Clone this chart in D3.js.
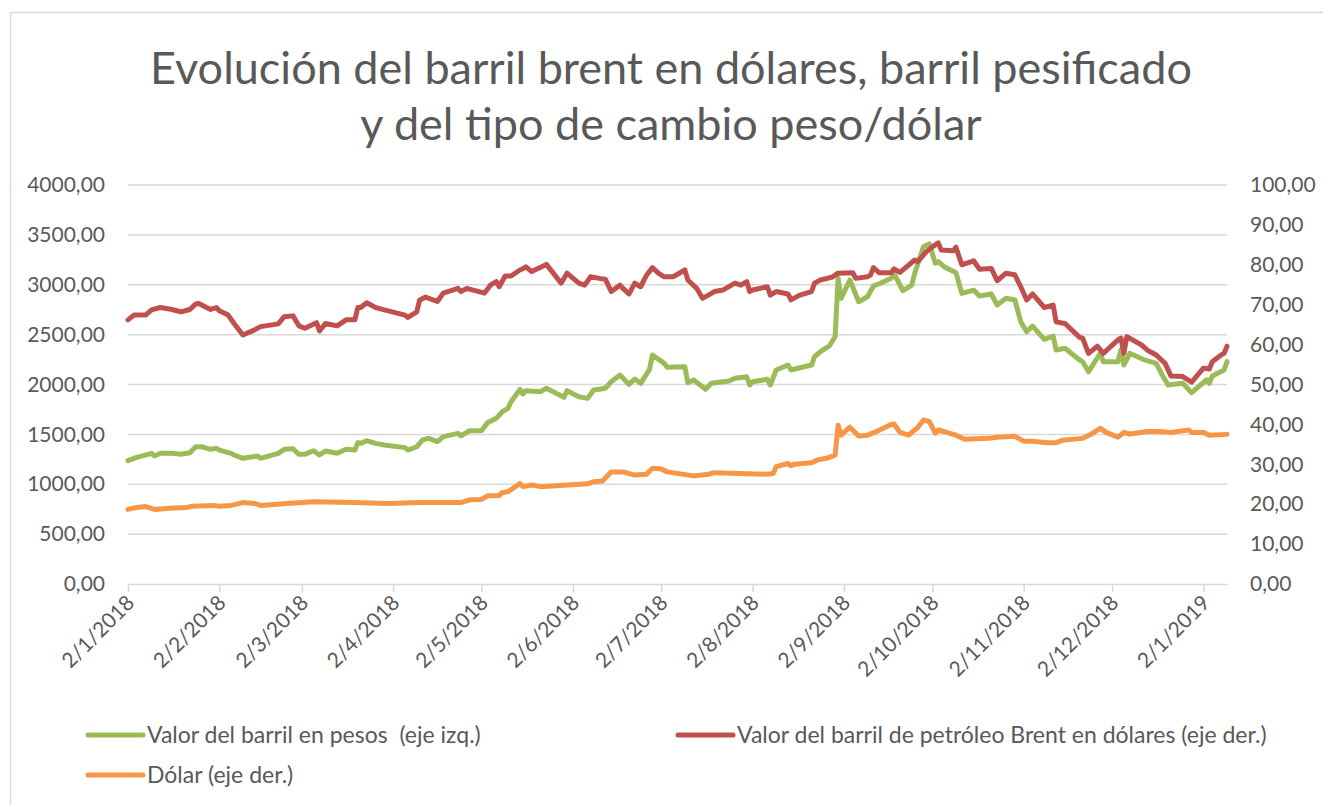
<!DOCTYPE html>
<html>
<head>
<meta charset="utf-8">
<script src="https://cdn.jsdelivr.net/npm/d3@7"></script>
<style>
  body { margin: 0; background: #fff; }
  text { font-family: Lato, "Open Sans", sans-serif; fill: #595959; }
</style>
</head>
<body>
<div id="chart"></div>
<script>
// series: valor del barril en pesos (eje izq.)
var pesosDates = ["2018-01-02","2018-01-05","2018-01-10","2018-01-11","2018-01-13","2018-01-17","2018-01-20","2018-01-23","2018-01-25","2018-01-27","2018-01-30","2018-02-01","2018-02-02","2018-02-06","2018-02-07","2018-02-10","2018-02-15","2018-02-16","2018-02-22","2018-02-24","2018-02-27","2018-03-01","2018-03-03","2018-03-06","2018-03-08","2018-03-10","2018-03-14","2018-03-17","2018-03-20","2018-03-21","2018-03-22","2018-03-24","2018-03-27","2018-03-30","2018-04-06","2018-04-07","2018-04-10","2018-04-12","2018-04-14","2018-04-17","2018-04-19","2018-04-24","2018-04-25","2018-04-28","2018-05-02","2018-05-04","2018-05-07","2018-05-09","2018-05-11","2018-05-12","2018-05-15","2018-05-16","2018-05-17","2018-05-22","2018-05-24","2018-05-30","2018-05-31","2018-06-04","2018-06-07","2018-06-09","2018-06-11","2018-06-13","2018-06-15","2018-06-18","2018-06-21","2018-06-23","2018-06-25","2018-06-28","2018-06-29","2018-07-03","2018-07-04","2018-07-10","2018-07-11","2018-07-13","2018-07-17","2018-07-19","2018-07-25","2018-07-27","2018-07-31","2018-08-01","2018-08-02","2018-08-07","2018-08-08","2018-08-10","2018-08-14","2018-08-15","2018-08-22","2018-08-23","2018-08-25","2018-08-28","2018-08-30","2018-08-31","2018-09-01","2018-09-04","2018-09-07","2018-09-10","2018-09-12","2018-09-14","2018-09-18","2018-09-19","2018-09-22","2018-09-25","2018-09-26","2018-09-29","2018-10-01","2018-10-03","2018-10-04","2018-10-06","2018-10-10","2018-10-12","2018-10-16","2018-10-18","2018-10-22","2018-10-24","2018-10-27","2018-10-30","2018-11-01","2018-11-03","2018-11-05","2018-11-09","2018-11-12","2018-11-13","2018-11-16","2018-11-21","2018-11-22","2018-11-24","2018-11-28","2018-11-29","2018-12-04","2018-12-05","2018-12-06","2018-12-08","2018-12-13","2018-12-17","2018-12-19","2018-12-21","2018-12-26","2018-12-29","2019-01-03","2019-01-04","2019-01-05","2019-01-09","2019-01-10"];
var pesosValues = [1236,1270,1310,1283,1310,1310,1300,1316,1376,1376,1350,1360,1343,1310,1293,1260,1283,1260,1310,1350,1356,1300,1300,1336,1293,1333,1310,1350,1343,1417,1410,1437,1410,1393,1367,1343,1376,1444,1460,1427,1477,1510,1484,1537,1537,1617,1661,1727,1761,1828,1950,1905,1938,1928,1962,1872,1938,1878,1861,1945,1952,1962,2028,2095,2002,2055,2012,2152,2296,2212,2172,2179,2018,2045,1952,2012,2035,2062,2078,1995,2028,2052,1995,2145,2195,2145,2195,2279,2329,2386,2479,3065,2864,3048,2830,2880,2988,3010,3065,3110,2940,2997,3115,3381,3409,3215,3232,3181,3121,2914,2947,2887,2907,2797,2864,2847,2630,2529,2586,2453,2486,2346,2363,2246,2229,2128,2313,2229,2229,2346,2195,2313,2246,2212,2095,1995,2012,1918,2045,2012,2085,2145,2229];

// series: Brent en dólares (eje der.)
var brentDates = ["2018-01-02","2018-01-04","2018-01-08","2018-01-10","2018-01-13","2018-01-17","2018-01-20","2018-01-23","2018-01-25","2018-01-26","2018-01-30","2018-02-01","2018-02-02","2018-02-05","2018-02-07","2018-02-10","2018-02-14","2018-02-16","2018-02-22","2018-02-24","2018-02-27","2018-03-01","2018-03-03","2018-03-07","2018-03-08","2018-03-10","2018-03-14","2018-03-17","2018-03-20","2018-03-21","2018-03-22","2018-03-24","2018-03-27","2018-03-30","2018-04-06","2018-04-07","2018-04-10","2018-04-11","2018-04-13","2018-04-17","2018-04-19","2018-04-24","2018-04-25","2018-04-27","2018-05-03","2018-05-05","2018-05-07","2018-05-08","2018-05-10","2018-05-12","2018-05-15","2018-05-16","2018-05-17","2018-05-19","2018-05-24","2018-05-29","2018-05-31","2018-06-04","2018-06-06","2018-06-08","2018-06-11","2018-06-13","2018-06-15","2018-06-18","2018-06-19","2018-06-21","2018-06-23","2018-06-25","2018-06-27","2018-06-29","2018-07-01","2018-07-03","2018-07-06","2018-07-10","2018-07-11","2018-07-14","2018-07-16","2018-07-18","2018-07-20","2018-07-23","2018-07-27","2018-07-29","2018-07-31","2018-08-01","2018-08-02","2018-08-07","2018-08-08","2018-08-10","2018-08-14","2018-08-15","2018-08-18","2018-08-22","2018-08-23","2018-08-25","2018-08-29","2018-08-31","2018-09-05","2018-09-06","2018-09-10","2018-09-11","2018-09-12","2018-09-14","2018-09-18","2018-09-19","2018-09-21","2018-09-26","2018-09-27","2018-09-30","2018-10-02","2018-10-04","2018-10-05","2018-10-09","2018-10-10","2018-10-12","2018-10-16","2018-10-18","2018-10-22","2018-10-24","2018-10-27","2018-10-30","2018-11-01","2018-11-03","2018-11-05","2018-11-09","2018-11-12","2018-11-13","2018-11-16","2018-11-21","2018-11-22","2018-11-24","2018-11-27","2018-11-29","2018-12-04","2018-12-05","2018-12-06","2018-12-07","2018-12-12","2018-12-14","2018-12-17","2018-12-20","2018-12-22","2018-12-26","2018-12-29","2019-01-02","2019-01-04","2019-01-05","2019-01-08","2019-01-09","2019-01-10"];
var brentValues = [66.2,67.4,67.4,68.7,69.3,68.8,68.2,68.8,70.2,70.3,68.8,69.3,68.5,67.4,65.3,62.4,63.7,64.5,65.2,67.0,67.2,64.7,64.1,65.5,63.4,65.3,64.7,66.2,66.2,69.3,69.3,70.5,69.3,68.7,67.4,66.8,68.2,71.2,71.9,70.8,72.9,74.1,73.3,74.1,72.9,74.9,75.8,74.5,77.2,77.2,78.7,79.0,79.5,78.3,80.1,75.4,77.9,75.4,74.9,77.0,76.6,76.4,73.3,74.9,74.1,72.7,75.4,74.5,77.4,79.3,77.9,77.0,77.0,78.7,76.2,74.1,71.6,72.4,73.3,73.7,75.4,74.9,75.8,73.3,73.7,74.5,72.4,73.3,72.7,71.2,72.4,73.3,75.4,76.2,76.9,77.9,78.0,76.6,77.0,77.4,79.3,78.0,78.0,79.0,78.1,81.2,80.8,83.3,84.5,85.5,83.7,83.5,84.4,80.0,81.0,78.9,79.1,76.0,77.9,77.5,74.5,71.2,72.7,69.3,69.9,65.7,65.3,61.8,61.6,57.8,59.6,57.8,61.2,61.6,57.8,62.0,59.9,58.6,57.4,55.3,52.1,52.0,50.6,54.1,53.9,55.7,57.4,57.8,59.6];

// series: dólar (eje der.)
var dolarDates = ["2018-01-02","2018-01-05","2018-01-08","2018-01-11","2018-01-16","2018-01-22","2018-01-24","2018-01-31","2018-02-02","2018-02-06","2018-02-10","2018-02-14","2018-02-16","2018-02-25","2018-03-06","2018-03-20","2018-03-31","2018-04-11","2018-04-25","2018-04-28","2018-05-02","2018-05-04","2018-05-08","2018-05-09","2018-05-11","2018-05-15","2018-05-16","2018-05-19","2018-05-22","2018-06-07","2018-06-09","2018-06-12","2018-06-15","2018-06-19","2018-06-23","2018-06-27","2018-06-29","2018-07-02","2018-07-04","2018-07-13","2018-07-18","2018-07-20","2018-08-07","2018-08-09","2018-08-10","2018-08-14","2018-08-15","2018-08-16","2018-08-22","2018-08-24","2018-08-27","2018-08-30","2018-08-31","2018-09-01","2018-09-04","2018-09-07","2018-09-10","2018-09-13","2018-09-18","2018-09-19","2018-09-21","2018-09-24","2018-09-26","2018-09-27","2018-09-29","2018-10-01","2018-10-03","2018-10-04","2018-10-06","2018-10-10","2018-10-13","2018-10-21","2018-10-24","2018-10-30","2018-11-02","2018-11-05","2018-11-10","2018-11-13","2018-11-15","2018-11-22","2018-11-25","2018-11-28","2018-11-30","2018-12-04","2018-12-06","2018-12-08","2018-12-14","2018-12-18","2018-12-22","2018-12-28","2018-12-29","2019-01-02","2019-01-04","2019-01-10"];
var dolarValues = [18.7,19.2,19.4,18.7,19.0,19.2,19.5,19.7,19.5,19.7,20.4,20.2,19.7,20.2,20.6,20.4,20.2,20.4,20.4,21.1,21.2,22.1,22.2,22.9,23.1,25.2,24.4,24.8,24.4,25.1,25.6,25.8,28.1,28.1,27.3,27.5,29.0,28.8,28.1,27.1,27.5,27.9,27.5,27.7,29.4,30.2,29.6,30.0,30.4,31.1,31.5,32.3,39.8,37.3,39.3,37.1,37.3,38.2,40.0,40.1,38.0,37.3,38.6,39.2,41.1,40.7,37.8,38.6,38.2,37.3,36.3,36.5,36.8,37.0,35.8,35.8,35.4,35.4,36.0,36.5,37.6,39.0,38.0,36.8,38.0,37.6,38.2,38.2,38.0,38.6,38.0,38.0,37.3,37.5];

var tickDates = ["2018-01-02","2018-02-02","2018-03-02","2018-04-02","2018-05-02","2018-06-02","2018-07-02","2018-08-02","2018-09-02","2018-10-02","2018-11-02","2018-12-02","2019-01-02"];
var leftTicks = [0,500,1000,1500,2000,2500,3000,3500,4000];
var rightTicks = [0,10,20,30,40,50,60,70,80,90,100];

var titleLines = ["Evolución del barril brent en dólares, barril pesificado", "y del tipo de cambio peso/dólar"];
var seriesNames = ["Valor del barril en pesos  (eje izq.)", "Valor del barril de petróleo Brent en dólares (eje der.)", "Dólar (eje der.)"];
var seriesColors = ["#9BBB59", "#C0504D", "#F79646"];

var svgWidth = 1323;
var svgHeight = 805;
var margin = {top: 185, bottom: 221, left: 128, right: 96};
var width = svgWidth - margin.left - margin.right;
var height = svgHeight - margin.top - margin.bottom;

var parseDate = d3.timeParse("%Y-%m-%d");
var fmtDate = d3.timeFormat("%-d/%-m/%Y");
var fmtNum = d => d.toFixed(2).replace(".", ",");

var svg = d3.select("#chart").append("svg")
	.attr("width", svgWidth)
	.attr("height", svgHeight);

svg.append("rect")
	.attr("x", 10.5).attr("y", 12.5)
	.attr("width", svgWidth + 20).attr("height", svgHeight + 20)
	.attr("fill", "#fff")
	.attr("stroke", "#d9d9d9")
	.attr("stroke-width", 1.5);

// title
svg.append("g").selectAll("text")
	.data(titleLines)
	.enter().append("text")
	.attr("x", 671)
	.attr("y", (d, i) => 84 + i * 56)
	.attr("text-anchor", "middle")
	.style("font-size", "45px")
	.text(d => d);

var xTime = d3.scaleTime()
	.domain([parseDate("2018-01-02"), parseDate("2019-01-10")])
	.range([0, width]);
var yLeft = d3.scaleLinear().domain([0, 4000]).range([height, 0]);
var yRight = d3.scaleLinear().domain([0, 100]).range([height, 0]);

var chartGroup = svg.append("g")
	.attr("transform", `translate(${margin.left}, ${margin.top})`);

// gridlines
chartGroup.append("g").selectAll("line")
	.data(leftTicks.slice(1))
	.enter().append("line")
	.attr("x1", 0).attr("x2", width)
	.attr("y1", d => yLeft(d)).attr("y2", d => yLeft(d))
	.attr("stroke", "#d9d9d9")
	.attr("stroke-width", 1.5);

// left axis
var leftAxis = d3.axisLeft(yLeft).tickValues(leftTicks).tickFormat(fmtNum).tickSize(0).tickPadding(23);
var gLeft = chartGroup.append("g").call(leftAxis);
gLeft.select(".domain").remove();
gLeft.selectAll("text").style("font-size", "21px").style("fill", "#595959").style("font-family", "Lato");

// right axis
var rightAxis = d3.axisRight(yRight).tickValues(rightTicks).tickFormat(fmtNum).tickSize(0).tickPadding(23);
var gRight = chartGroup.append("g").attr("transform", `translate(${width}, 0)`).call(rightAxis);
gRight.select(".domain").remove();
gRight.selectAll("text").style("font-size", "21px").style("fill", "#595959").style("font-family", "Lato");

// bottom axis
var bottomAxis = d3.axisBottom(xTime)
	.tickValues(tickDates.map(parseDate))
	.tickFormat(fmtDate)
	.tickSizeInner(8).tickSizeOuter(0);
var gBottom = chartGroup.append("g")
	.attr("transform", `translate(0, ${height})`)
	.call(bottomAxis);
gBottom.select(".domain").attr("stroke", "#d9d9d9").attr("stroke-width", 1.5);
gBottom.selectAll(".tick line").attr("stroke", "#d9d9d9").attr("stroke-width", 1.5);
gBottom.selectAll("text")
	.style("font-size", "21px").style("fill", "#595959").style("font-family", "Lato")
	.attr("text-anchor", "end")
	.attr("y", 0).attr("dy", "0.35em")
	.attr("transform", "translate(2, 15) rotate(-45)");

// lines
var series = [
	{dates: pesosDates, values: pesosValues, y: yLeft},
	{dates: brentDates, values: brentValues, y: yRight},
	{dates: dolarDates, values: dolarValues, y: yRight}
];

series.forEach(function(s, i) {
	var pts = s.dates.map((d, j) => [parseDate(d), s.values[j]]);
	var line = d3.line()
		.x(d => xTime(d[0]))
		.y(d => s.y(d[1]));
	chartGroup.append("path")
		.datum(pts)
		.attr("d", line)
		.attr("fill", "none")
		.attr("stroke", seriesColors[i])
		.attr("stroke-width", 5)
		.attr("stroke-linejoin", "round")
		.attr("stroke-linecap", "round");
});

// legend
var legendPos = [[88, 735], [678, 735], [88, 775]];
var legend = svg.append("g").selectAll("g")
	.data(seriesNames)
	.enter().append("g")
	.attr("transform", (d, i) => `translate(${legendPos[i][0]}, ${legendPos[i][1]})`);
legend.append("line")
	.attr("x1", 0).attr("x2", 55)
	.attr("stroke", (d, i) => seriesColors[i])
	.attr("stroke-width", 5)
	.attr("stroke-linecap", "round");
legend.append("text")
	.attr("x", 59)
	.attr("dy", "0.35em")
	.style("font-size", "23px")
	.style("white-space", "pre")
	.text(d => d);
</script>
</body>
</html>
